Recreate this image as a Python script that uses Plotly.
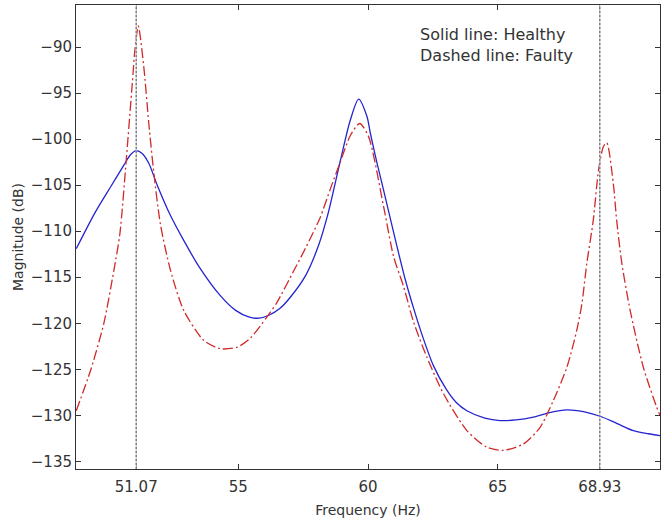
import plotly.graph_objects as go

# ---- data ----
freq_healthy = [48.76, 49.5, 50.08, 50.6, 50.85, 51.07, 51.3, 51.55, 51.88, 52.39, 52.9, 53.5,
                54.31, 54.9, 55.4, 55.8, 56.2, 56.6, 57.0, 57.6, 58.1, 58.45,
                58.93, 59.32, 59.64, 59.96, 60.09, 60.35, 60.6, 61.12, 61.44, 61.75,
                62.1, 62.52, 63.0, 63.4, 63.81, 64.5, 65.09, 65.7, 66.37, 67.0, 67.66, 68.3,
                68.94, 69.6, 70.22, 70.8, 71.25]
mag_healthy = [-111.9, -107.9, -105.2, -102.8, -101.7, -101.25, -101.55, -102.6, -105.0, -108.3, -111.0, -113.9,
               -117.0, -118.6, -119.3, -119.45, -119.1, -118.4, -117.2, -114.8, -111.5, -108.2,
               -102.4, -97.92, -95.66, -97.55, -99.36, -102.63, -105.53, -111.7, -115.3, -118.3,
               -121.4, -124.6, -127.1, -128.6, -129.5, -130.3, -130.57, -130.5, -130.2, -129.7, -129.4, -129.6,
               -130.1, -130.9, -131.66, -132.0, -132.2]

freq_faulty = [48.76, 49.31, 49.82, 50.21, 50.44, 50.685, 50.92, 51.02, 51.15, 51.36, 51.555,
               51.75, 52.005, 52.39, 52.9, 53.67, 54.31, 54.96, 55.47, 56.11, 56.5, 57.14,
               57.6, 58.16, 58.55, 58.93, 59.32, 59.68, 60.02, 60.6, 60.99, 61.37, 61.76,
               62.27, 62.91, 63.81, 64.58, 65.22, 65.99, 66.63, 67.14, 67.66, 68.04, 68.24,
               68.43, 68.68, 68.88, 69.07, 69.2, 69.45, 69.58, 69.78, 70.1, 70.61, 71.12, 71.25]
mag_faulty = [-129.5, -125.13, -120.04, -114.24, -110.3, -102.3, -93.9, -90.3, -87.7, -92.1, -98.3,
              -103.7, -109.3, -114.24, -118.6, -121.86, -122.77, -122.6, -121.6, -119.3, -117.7, -114.3,
              -111.8, -108.5, -105.4, -102.5, -99.6, -98.3, -99.7, -107.3, -112.8, -116.0, -119.9,
              -123.7, -127.66, -131.66, -133.47, -133.8, -133.1, -131.3, -128.4, -124.8, -120.8, -117.9,
              -113.5, -108.8, -103.4, -100.8, -100.4, -104.8, -108.8, -113.5, -118.6, -124.8, -129.1, -130.0]

marker_freqs = [51.07, 68.93]
x_tick_vals = [51.07, 55, 60, 65, 68.93]
x_tick_text = ["51.07", "55", "60", "65", "68.93"]
y_tick_vals = [-90, -95, -100, -105, -110, -115, -120, -125, -130, -135]
note_text = "Solid line: Healthy<br>Dashed line: Faulty"

FONT = "DejaVu Sans, Liberation Sans, Arial, sans-serif"
TXT = "#333333"
AXCOL = "#333333"

fig = go.Figure()

fig.add_trace(go.Scatter(
    x=freq_healthy, y=mag_healthy, mode="lines", name="Healthy",
    line=dict(color="#2424d0", width=1.3, shape="spline", smoothing=0.8),
))
fig.add_trace(go.Scatter(
    x=freq_faulty, y=mag_faulty, mode="lines", name="Faulty",
    line=dict(color="#d02a2a", width=1.3, dash="10px,3px,2px,3px", shape="spline", smoothing=0.7),
))

for f in marker_freqs:
    fig.add_shape(type="line", xref="x", yref="paper", x0=f, x1=f, y0=0, y1=1,
                  line=dict(color="#d2c49c", width=1.2), layer="above")
    fig.add_shape(type="line", xref="x", yref="paper", x0=f, x1=f, y0=0, y1=1,
                  line=dict(color="#6070b4", width=1.2, dash="2px,2px"), layer="above")

fig.add_annotation(
    text=note_text, xref="paper", yref="paper", x=0.586, y=0.962,
    xanchor="left", yanchor="top", showarrow=False, align="left",
    font=dict(family=FONT, size=16, color=TXT),
)

fig.update_layout(
    width=661, height=525,
    margin=dict(l=76, r=1, t=5, b=56),
    paper_bgcolor="white", plot_bgcolor="white",
    showlegend=False,
    font=dict(family=FONT, size=15, color=TXT),
)

fig.update_xaxes(
    range=[48.75, 71.25], tickmode="array", tickvals=x_tick_vals, ticktext=x_tick_text,
    ticks="inside", ticklen=5, tickcolor=AXCOL, tickwidth=1,
    showline=True, linecolor=AXCOL, linewidth=1, mirror="ticks",
    showgrid=False, zeroline=False, ticklabelstandoff=4,
    tickfont=dict(family=FONT, size=15, color=TXT),
    title=dict(text="Frequency (Hz)", standoff=10, font=dict(family=FONT, size=14, color=TXT)),
)
fig.update_yaxes(
    range=[-135.83, -85.43], tickmode="array", tickvals=y_tick_vals,
    ticks="inside", ticklen=5, tickcolor=AXCOL, tickwidth=1,
    showline=True, linecolor=AXCOL, linewidth=1, mirror="ticks",
    showgrid=False, zeroline=False, ticklabelstandoff=0,
    tickfont=dict(family=FONT, size=15, color=TXT),
    title=dict(text="Magnitude (dB)", standoff=3, font=dict(family=FONT, size=14, color=TXT)),
)

fig.write_html("out.html")
